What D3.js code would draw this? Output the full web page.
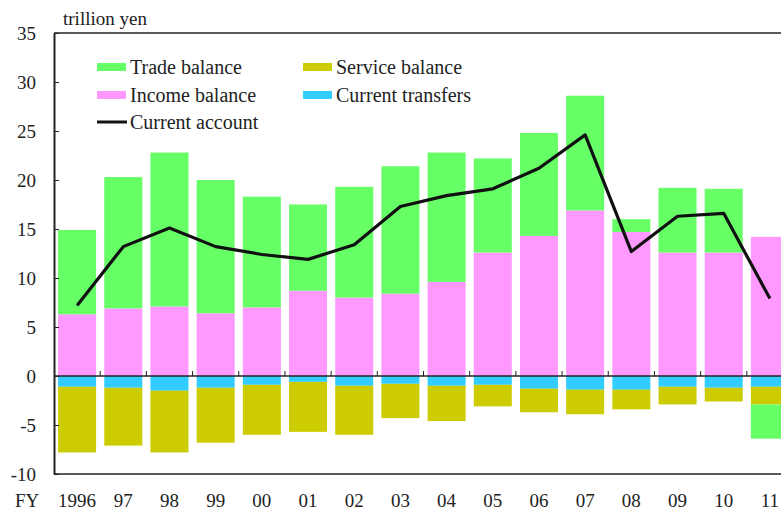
<!DOCTYPE html>
<html>
<head>
<meta charset="utf-8">
<script src="https://cdn.jsdelivr.net/npm/d3@7"></script>
<style>
	body { margin: 0; background: #fff; }
</style>
</head>
<body>
<svg id="chart" width="781" height="517" font-family="'Liberation Serif', 'Times New Roman', Times, serif"></svg>
<script>
// fiscal years
var years = ["1996","97","98","99","00","01","02","03","04","05","06","07","08","09","10","11"];

// trillion yen
var income_balance    = [6.3, 6.9, 7.1, 6.4, 7.0, 8.7, 8.0, 8.4, 9.6, 12.6, 14.3, 16.9, 14.7, 12.6, 12.6, 14.2];
var trade_balance     = [8.6, 13.4, 15.7, 13.6, 11.3, 8.8, 11.3, 13.0, 13.2, 9.6, 10.5, 11.7, 1.3, 6.6, 6.5, -3.5];
var current_transfers = [-1.1, -1.2, -1.5, -1.2, -0.9, -0.6, -1.0, -0.8, -1.0, -0.9, -1.3, -1.4, -1.4, -1.1, -1.2, -1.1];
var service_balance   = [-6.7, -5.9, -6.3, -5.6, -5.1, -5.1, -5.0, -3.5, -3.6, -2.2, -2.4, -2.5, -2.0, -1.8, -1.4, -1.8];
var current_account   = [7.2, 13.2, 15.1, 13.2, 12.4, 11.9, 13.4, 17.3, 18.4, 19.1, 21.2, 24.6, 12.7, 16.3, 16.6, 7.9];

var y_ticks = [-10, -5, 0, 5, 10, 15, 20, 25, 30, 35];

(function(){
	"use strict";

	var serif = "'Liberation Serif', 'Times New Roman', Times, serif";
	var text_color = "#222";

	var colors = {
		trade: "#66ff66",
		service: "#cccc00",
		income: "#ff99ff",
		transfers: "#33ccff"
	};

	var svg = d3.select("#chart");

	var plot_left = 54, plot_right = 793, plot_top = 33, plot_bottom = 474;

	var x = d3.scaleBand().domain(years).range([plot_left, plot_right])
		.paddingInner(0.177).paddingOuter(0.0885);
	var y = d3.scaleLinear().domain([-10, 35]).range([plot_bottom, plot_top]);

	// build rows for stacking
	var rows = years.map(function(yr, i){
		return {
			year: yr,
			income: income_balance[i],
			transfers: current_transfers[i],
			service: service_balance[i],
			trade: trade_balance[i]
		};
	});

	// key order keeps income then trade above zero, and transfers, service, trade below
	var stack = d3.stack()
		.keys(["income", "transfers", "service", "trade"])
		.offset(d3.stackOffsetDiverging);
	var series = stack(rows);

	svg.append("g").selectAll("g")
		.data(series)
		.join("g")
		.attr("fill", function(d){ return colors[d.key]; })
		.selectAll("rect")
		.data(function(d){ return d; })
		.join("rect")
		.attr("x", function(d){ return x(d.data.year); })
		.attr("width", x.bandwidth())
		.attr("y", function(d){ return y(Math.max(d[0], d[1])); })
		.attr("height", function(d){ return Math.abs(y(d[0]) - y(d[1])); });

	// frame
	svg.append("line").attr("x1", plot_left).attr("x2", 781).attr("y1", plot_top).attr("y2", plot_top)
		.attr("stroke", "#222").attr("stroke-width", 1.5);
	svg.append("line").attr("x1", plot_left).attr("x2", 781).attr("y1", plot_bottom).attr("y2", plot_bottom)
		.attr("stroke", "#222").attr("stroke-width", 1.5);

	// zero line
	svg.append("line").attr("x1", plot_left).attr("x2", 781).attr("y1", y(0)).attr("y2", y(0))
		.attr("stroke", "#222").attr("stroke-width", 1.5);

	// y axis, ticks pointing inward
	var y_axis = svg.append("g")
		.attr("transform", "translate(" + plot_left + ",0)")
		.call(d3.axisRight(y).tickValues(y_ticks).tickSize(5).tickSizeOuter(0).tickFormat(""));
	y_axis.select(".domain").attr("stroke", "#222").attr("stroke-width", 2);
	y_axis.selectAll(".tick line").attr("stroke", "#222");

	function add_text(sel){
		return sel.attr("font-family", serif).attr("fill", text_color).attr("font-size", 19);
	}

	svg.append("g").selectAll("text")
		.data(y_ticks)
		.join("text")
		.call(add_text)
		.attr("x", 36)
		.attr("y", function(d){ return y(d); })
		.attr("dy", "0.35em")
		.attr("text-anchor", "end")
		.text(function(d){ return d; });

	// category separators on the zero line
	var step = x.step();
	svg.append("g").selectAll("line")
		.data(years.slice(1))
		.join("line")
		.attr("x1", function(d){ return x(d) - x.paddingInner() * step / 2; })
		.attr("x2", function(d){ return x(d) - x.paddingInner() * step / 2; })
		.attr("y1", y(0))
		.attr("y2", y(0) - 5)
		.attr("stroke", "#222");

	// year labels
	svg.append("g").selectAll("text")
		.data(years)
		.join("text")
		.call(add_text)
		.attr("x", function(d){ return x(d) + x.bandwidth() / 2; })
		.attr("y", 507)
		.attr("text-anchor", "middle")
		.text(function(d){ return d; });

	svg.append("text").call(add_text).attr("x", 15).attr("y", 507).text("FY");
	svg.append("text").call(add_text).attr("x", 63).attr("y", 25).text("trillion yen");

	// current account line
	var line = d3.line()
		.x(function(d, i){ return x(years[i]) + x.bandwidth() / 2; })
		.y(function(d){ return y(d); });

	svg.append("path")
		.datum(current_account)
		.attr("d", line)
		.attr("fill", "none")
		.attr("stroke", "#111")
		.attr("stroke-width", 3.2)
		.attr("stroke-linejoin", "round");

	// legend
	var legend_items = [
		{label: "Trade balance", color: colors.trade, x: 97, y: 67},
		{label: "Service balance", color: colors.service, x: 303, y: 67},
		{label: "Income balance", color: colors.income, x: 97, y: 95},
		{label: "Current transfers", color: colors.transfers, x: 303, y: 95},
		{label: "Current account", color: null, x: 97, y: 122}
	];

	var legend = svg.append("g").selectAll("g")
		.data(legend_items)
		.join("g")
		.attr("transform", function(d){ return "translate(" + d.x + "," + d.y + ")"; });

	legend.each(function(d){
		var g = d3.select(this);
		if (d.color) {
			g.append("rect").attr("x", 0).attr("y", -4).attr("width", 29).attr("height", 8).attr("fill", d.color);
		} else {
			g.append("line").attr("x1", 0).attr("x2", 30).attr("y1", 0).attr("y2", 0)
				.attr("stroke", "#111").attr("stroke-width", 3);
		}
		g.append("text").call(add_text).attr("font-size", 20)
			.attr("x", 33).attr("dy", "0.35em").text(d.label);
	});
})();
</script>
</body>
</html>
